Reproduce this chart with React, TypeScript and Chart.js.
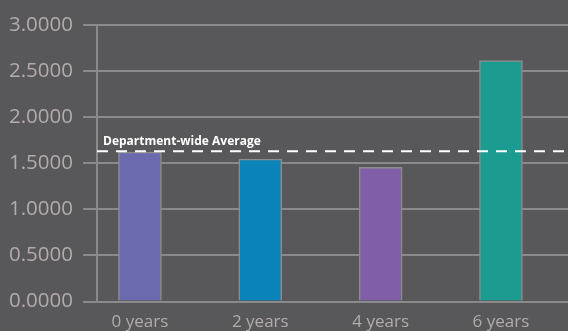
import React, { useEffect, useRef } from "react";
import { Chart, registerables } from "chart.js";

Chart.register(...registerables);

const categories = ["0 years", "2 years", "4 years", "6 years"];
const values = [1.62, 1.545, 1.455, 2.615];
const barColors = ["#6b6aae", "#0a84b8", "#815fa8", "#1c9c91"];
const averageValue = 1.63;
const averageLabel = "Department-wide Average";
const yTicks = [0, 0.5, 1, 1.5, 2, 2.5, 3];

const BG = "#58585a";
const GRID = "#8a8a8a";
const TICK = "#b3abab";

const avgPlugin = {
  id: "avgLine",
  afterDatasetsDraw(chart: any) {
    const { ctx, chartArea, scales } = chart;
    const y = scales.y.getPixelForValue(averageValue);
    ctx.save();
    ctx.strokeStyle = "#ffffff";
    ctx.lineWidth = 2;
    ctx.setLineDash([11, 8]);
    ctx.beginPath();
    ctx.moveTo(chartArea.left, y);
    ctx.lineTo(chartArea.right, y);
    ctx.stroke();
    ctx.setLineDash([]);
    ctx.fillStyle = "#ffffff";
    ctx.font = "bold 12px 'Open Sans'";
    ctx.textBaseline = "alphabetic";
    ctx.textAlign = "left";
    ctx.fillText(averageLabel, chartArea.left + 6, y - 6);
    ctx.restore();
  },
};

export default function App() {
  const ref = useRef<HTMLCanvasElement>(null);
  useEffect(() => {
    document.body.style.margin = "0";
    document.body.style.background = BG;
    const chart = new Chart(ref.current!, {
      type: "bar",
      data: {
        datasets: [
          {
            data: values.map((v, i) => ({ x: i, y: v })),
            backgroundColor: barColors,
            borderColor: "#8c8c8c",
            borderWidth: 1.5,
            barThickness: 43,
          },
        ],
      },
      options: {
        responsive: false,
        animation: false,
        layout: { padding: { top: 25, right: 0, left: 0, bottom: 0 } },
        plugins: { legend: { display: false }, tooltip: { enabled: false } },
        scales: {
          x: {
            type: "linear",
            offset: false,
            min: -0.357,
            max: 3.557,
            afterBuildTicks: (s: any) => {
              s.ticks = categories.map((_, i) => ({ value: i }));
            },
            afterFit: (s: any) => {
              s.height = 29.5;
            },
            ticks: {
              callback: (v: any) => categories[v as number] ?? "",
              color: TICK,
              font: { family: "'Open Sans'", size: 17 },
              padding: 2,
              maxRotation: 0,
            },
            grid: { display: false },
            border: { display: false },
          },
          y: {
            min: 0,
            max: 3,
            afterBuildTicks: (s: any) => {
              s.ticks = yTicks.map((v) => ({ value: v }));
            },
            afterFit: (s: any) => {
              s.width = 97;
            },
            ticks: {
              callback: (v: any) => Number(v).toFixed(4),
              color: TICK,
              font: { family: "'Open Sans'", size: 20.5 },
              padding: 10,
            },
            grid: { color: GRID, lineWidth: 2, tickLength: 14 },
            border: { display: true, color: GRID, width: 2 },
          },
        },
      },
      plugins: [avgPlugin],
    });
    return () => chart.destroy();
  }, []);
  return (
    <div style={{ position: "absolute", left: 0, top: 0, width: 568, height: 331, background: BG }}>
      <canvas ref={ref} width={568} height={331} />
    </div>
  );
}
